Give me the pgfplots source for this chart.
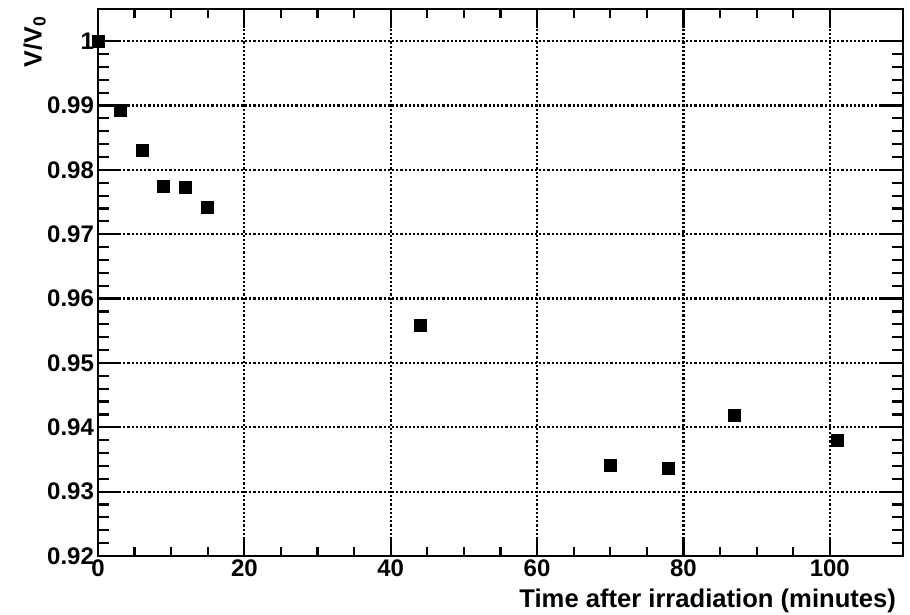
\documentclass[border=0pt]{standalone}
\usepackage{fontspec}
\setmainfont{Liberation Sans}
\usepackage{pgfplots}
\pgfplotsset{compat=1.18}

\pgfplotstableread{
t     r
0     1.0000
3     0.9892
6     0.9830
9     0.9775
12    0.9772
15    0.9741
44    0.9559
70    0.9341
78    0.9336
87    0.9418
101   0.9380
}\ratio

\begin{document}
\begin{tikzpicture}
\useasboundingbox (-49pt,-29.5pt) rectangle (406pt,278pt);
\begin{axis}[
  scale only axis,
  width=402.5pt, height=273.5pt,
  xmin=0, xmax=110, ymin=0.92, ymax=1.005,
  xtick={0,20,40,60,80,100},
  ytick={0.92,0.93,0.94,0.95,0.96,0.97,0.98,0.99,1.00},
  minor x tick num=3, minor y tick num=4,
  axis line style={line width=1.1pt},
  every tick/.style={black, line width=1.1pt},
  xtick style={/pgfplots/major tick length=9.5pt, /pgfplots/minor tick length=4.5pt},
  ytick style={/pgfplots/major tick length=11.5pt, /pgfplots/minor tick length=5.5pt},
  grid=major,
  major grid style={black, line width=1.1pt, dash pattern=on 1.1pt off 1pt},
  /pgf/number format/assume math mode=true,
  yticklabel style={/pgf/number format/fixed, /pgf/number format/precision=2,
    font=\fontsize{12}{14}\selectfont\bfseries, xshift=1.5pt},
  xticklabel style={font=\fontsize{12}{14}\selectfont\bfseries, yshift=1.5pt},
  xlabel={Time after irradiation (minutes)},
  ylabel={V/V\textsubscript{0}},
  xlabel style={font=\fontsize{12.8}{14}\selectfont\bfseries,
    at={(axis description cs:1,0)}, anchor=north east, yshift=-13pt},
  ylabel style={font=\fontsize{12.5}{14}\selectfont\bfseries,
    at={(axis description cs:-0.056,1)}, anchor=south east},
  clip=false,
]
\addplot[only marks, mark=square*, mark size=3pt, black] table[x=t, y=r] {\ratio};
\end{axis}
\end{tikzpicture}
\end{document}
